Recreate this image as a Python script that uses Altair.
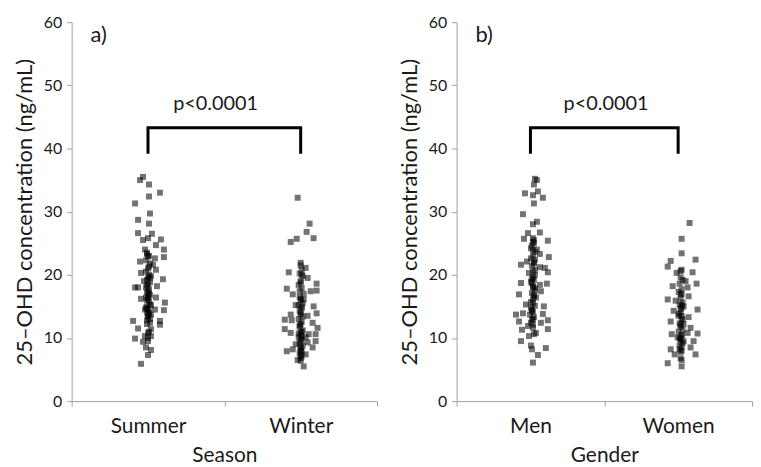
import altair as alt
import pandas as pd

FONT = "Lato"

# ---- data ----
season_categories = ["Summer", "Winter"]
gender_categories = ["Men", "Women"]

summer_values = [35.0, 35.5, 34.3, 33.0, 32.4, 31.3, 28.7, 29.7, 28.1, 26.6, 26.5, 25.5, 25.8, 25.6,
                 24.7, 24.0, 24.0, 23.3, 22.6, 22.8, 22.1, 21.6, 20.3, 20.8, 19.5, 19.3, 19.0, 18.0,
                 18.0, 18.2, 17.4, 16.4, 16.2, 16.4, 15.6, 15.3, 14.5, 14.5, 14.4, 13.7, 12.7, 12.7,
                 12.4, 11.4, 11.5, 12.1, 10.3, 10.3, 9.9, 9.4, 9.5, 8.5, 8.1, 7.3, 5.9,
                 23.5, 23.0, 22.3, 21.8, 21.0, 20.5, 20.0, 19.8, 19.2, 18.8, 18.5, 18.0, 17.7, 17.2,
                 16.8, 16.5, 16.0, 15.8, 15.2, 14.8, 14.2, 14.0, 13.5, 13.0, 12.8,
                 22.9, 21.3, 19.6, 18.3, 17.0, 16.2, 15.0, 14.6, 13.8, 13.2, 12.2, 11.0, 10.8, 10.0]
summer_jitter = [-8, -5, 1, 12, 1, -13, -10, 2, 1, -10, 4, -5, 0, 13,
                 8, 16, -3, -1, 7, 16, -8, 5, -7, 8, 2, 15, -4, -13,
                 -10, 9, 0, -2, -7, 8, 17, 2, -3, 7, 16, 3, -15, 12,
                 2, 3, -10, 12, -3, 3, -13, -5, 0, -2, 3, 0, -7,
                 -1, 1, -2, 2, 0, -2, 1, 3, -1, 2, 0, -2, 1, -1,
                 2, 0, -1, 1, 3, -2, 1, -1, 0, 2, -1,
                 0, 1, 0, -1, 1, 0, -1, 0, 1, 0, -1, 1, 0, 0]

winter_values = [32.2, 28.1, 26.8, 25.8, 25.7, 25.2, 21.9, 20.4, 21.1, 19.5, 18.6, 17.8, 16.9, 17.4,
                 17.5, 16.1, 15.2, 15.0, 13.9, 13.7, 13.5, 12.9, 12.8, 12.4, 11.4, 11.6, 10.8, 10.6,
                 10.6, 10.1, 10.1, 9.5, 9.3, 9.0, 8.2, 8.5, 7.9, 8.0, 7.4, 6.5, 6.4, 5.5,
                 20.8, 20.2, 19.8, 19.0, 18.4, 17.9, 17.0, 16.5, 16.0, 15.5, 15.2, 14.7, 14.3, 14.0,
                 13.4, 13.0, 12.6, 12.2, 11.8, 11.2, 11.0, 10.7, 10.4, 9.8, 9.2, 8.8, 8.4, 7.6, 7.1, 6.8,
                 21.5, 20.0, 18.8, 17.4, 16.2, 15.0, 13.7, 12.0, 10.9, 10.2, 9.5, 8.6, 7.9, 7.3]
winter_jitter = [-3, 9, 6, 13, -4, -10, 0, -12, 5, 7, 16, -14, -8, 10,
                 16, 3, -5, 13, 16, -10, 7, -16, -9, 12, -16, 17, -10, 8,
                 15, -2, 5, 15, 7, -5, -8, 12, -14, 0, 5, -3, 0, 3,
                 1, -1, 2, 0, -2, 1, 3, -1, 0, 2, -2, 1, -1, 0,
                 2, -2, 1, 0, -1, 2, 1, -2, 0, 1, -1, 2, 0, -1, 1, 0,
                 0, 1, 0, -1, 0, 1, 0, -1, 0, 1, 0, 0, 1, 0]

men_values = [35.2, 35.0, 34.3, 33.2, 32.9, 32.6, 32.2, 31.3, 29.6, 28.4, 28.0, 26.6, 26.7, 25.7,
              25.5, 25.4, 24.2, 24.0, 23.3, 22.8, 22.1, 22.4, 21.6, 21.2, 21.1, 20.3, 20.4, 20.0,
              18.7, 18.7, 18.6, 18.4, 17.9, 16.9, 17.4, 16.4, 15.3, 15.0, 14.8, 13.7, 13.9, 13.8,
              13.7, 12.6, 12.8, 12.4, 12.4, 11.9, 11.3, 11.4, 10.8, 10.3, 9.5, 8.8, 8.4, 8.2, 7.3, 6.1,
              25.8, 25.0, 24.6, 23.6, 23.0, 22.6, 21.8, 21.4, 20.8, 19.6, 19.2, 18.9, 18.2, 17.6,
              17.1, 16.6, 16.1, 15.7, 15.1, 14.5, 14.1, 13.3, 12.9, 12.1,
              25.2, 23.9, 22.0, 20.5, 19.4, 18.0, 16.8, 15.5, 14.3, 13.0, 11.6, 10.6]
men_jitter = [2, 4, 1, 5, -8, 0, 10, 1, -10, 4, 0, -5, 7, -9,
              1, 15, -2, 4, 7, 16, -6, 2, -12, 7, 12, -4, 15, 2,
              -12, -1, 14, 7, 2, -14, 8, 3, -7, 11, -2, -17, -10, 10,
              -3, -14, 15, -2, 8, -5, -11, 15, 3, -4, -12, -2, 13, -1, 5, 0,
              0, 1, -1, 2, 0, -2, 1, -1, 2, 0, 1, -2, 0, 2,
              -1, 1, 0, -2, 2, -1, 0, 1, -1, 0,
              0, 0, 1, 0, -1, 0, 1, 0, -1, 0, 0, 1]

women_values = [28.2, 25.7, 23.4, 22.2, 22.4, 21.3, 20.6, 20.3, 20.4, 19.0, 18.6, 18.2, 18.0, 16.9,
                16.6, 16.1, 15.9, 15.0, 14.5, 14.3, 13.5, 13.3, 12.6, 12.2, 11.6, 10.6, 10.7, 10.8,
                10.1, 9.5, 9.5, 8.2, 8.2, 8.5, 7.4, 7.4, 6.5, 6.0, 5.5,
                19.6, 19.2, 18.6, 17.7, 17.3, 16.3, 15.6, 15.3, 14.8, 14.0, 13.8, 13.0, 12.8, 12.3,
                11.8, 11.3, 11.0, 10.4, 10.0, 9.8, 9.2, 8.8, 8.6, 7.8,
                20.8, 17.0, 15.2, 14.6, 13.5, 12.0, 10.5, 9.6, 8.0, 6.8]
women_jitter = [9, 1, 1, -10, 15, -13, 0, -4, 12, 5, 16, -8, 7, 1,
                8, -13, -5, 3, 17, -7, -2, 8, -10, 3, 10, -9, 17, 7,
                -3, 3, 13, -10, -1, 10, -6, 15, 1, -13, 1,
                0, 2, -1, 1, -2, 0, 2, -1, 1, 0, -2, 2, 1, -1,
                0, 2, -2, 1, -1, 0, 2, -1, 1, 0,
                1, 0, 1, 0, 1, 0, 1, 0, 1, 0]

p_label = "p<0.0001"
bracket_low, bracket_high = 39.4, 43.3
y_ticks = [0, 5, 10, 15, 20, 25, 30, 35, 40, 45, 50, 55, 60]


def panel(cats, vals_a, jit_a, vals_b, jit_b, xtitle, tag, width, text_dx):
    pts = pd.DataFrame({
        "cat": [cats[0]] * len(vals_a) + [cats[1]] * len(vals_b),
        "value": vals_a + vals_b,
        "jitter": jit_a + jit_b,
    })
    half = width / 4.0
    x = alt.X("cat:N", sort=cats, title=xtitle,
              scale=alt.Scale(domain=cats, paddingInner=0, paddingOuter=0),
              axis=alt.Axis(labelAngle=0, tickBand="extent", tickSize=5, labelPadding=10,
                            labelFontSize=21, titleFontSize=21, titlePadding=8,
                            domainColor="#a0a0a0", tickColor="#a0a0a0",
                            labelColor="#1a1a1a", titleColor="#1a1a1a",
                            labelFont=FONT, titleFont=FONT, titleFontWeight="normal"))
    y = alt.Y("value:Q", title="25\u2013OHD concentration (ng/mL)",
              scale=alt.Scale(domain=[0, 60], nice=False),
              axis=alt.Axis(values=y_ticks, grid=False, tickSize=5, labelPadding=5,
                            labelExpr="datum.value % 10 == 0 ? datum.label : ''",
                            labelFontSize=16, titleFontSize=22, titlePadding=7,
                            domainColor="#a0a0a0", tickColor="#a0a0a0",
                            labelColor="#1a1a1a", titleColor="#1a1a1a",
                            labelFont=FONT, titleFont=FONT, titleFontWeight="normal"))
    points = alt.Chart(pts).mark_square(size=36, color="#000000", opacity=0.55).encode(
        x=x, y=y,
        xOffset=alt.XOffset("jitter:Q", scale=alt.Scale(domain=[-half, half])),
    )
    br = pd.DataFrame({
        "cat": [cats[0], cats[0], cats[1], cats[1]],
        "value": [bracket_low, bracket_high, bracket_high, bracket_low],
        "order": [0, 1, 2, 3],
    })
    bracket = alt.Chart(br).mark_line(color="#000000", strokeWidth=3, strokeJoin="miter",
                                      strokeCap="square").encode(
        x=alt.X("cat:N", sort=cats), y="value:Q", order="order:Q")
    ptxt = alt.Chart(pd.DataFrame({"cat": [cats[0]], "value": [47.0], "t": [p_label]})).mark_text(
        font=FONT, fontSize=20, color="#1a1a1a", dx=text_dx, baseline="middle").encode(
        x=alt.X("cat:N", sort=cats), y="value:Q", text="t:N")
    tag_txt = alt.Chart(pd.DataFrame({"value": [57.9], "t": [tag]})).mark_text(
        font=FONT, fontSize=22, color="#1a1a1a", align="left", baseline="middle").encode(
        x=alt.value(19), y="value:Q", text="t:N")
    return alt.layer(points, bracket, ptxt, tag_txt).properties(width=width, height=381)


left = panel(season_categories, summer_values, summer_jitter, winter_values, winter_jitter,
             "Season", "a)", 307, 68)
right = panel(gender_categories, men_values, men_jitter, women_values, women_jitter,
              "Gender", "b)", 297, 76)

chart = alt.hconcat(left, right, spacing=20).configure_view(stroke=None).properties(
    padding={"left": 5, "top": 5, "right": 0, "bottom": 0}
)

chart.save("out.html", embed_options={"renderer": "svg", "actions": False})
